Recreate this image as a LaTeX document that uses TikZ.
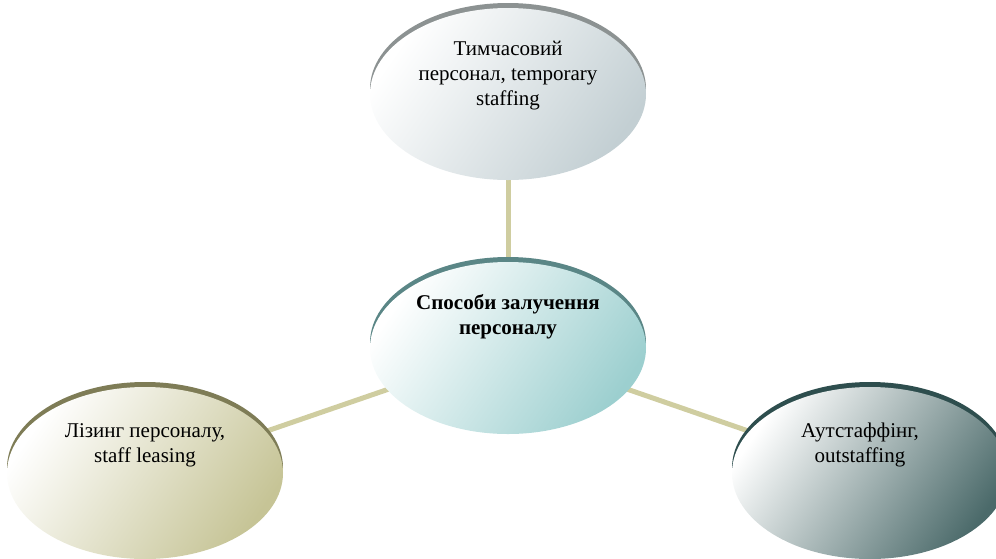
\documentclass[tikz,border=0pt]{standalone}
\usepackage{fontspec}
\setmainfont{Liberation Serif}
\usetikzlibrary{shapes.geometric,shadows}
\pgfdeclarelayer{background}
\pgfsetlayers{background,main}
\definecolor{linkc}{HTML}{CFCDA0}
\definecolor{rimA}{HTML}{8C9292}\definecolor{fillA}{HTML}{C3CFD3}
\definecolor{rimB}{HTML}{5A8686}\definecolor{fillB}{HTML}{9CCFCF}
\definecolor{rimC}{HTML}{7E7C56}\definecolor{fillC}{HTML}{C6C496}
\definecolor{rimD}{HTML}{2E4E4E}\definecolor{fillD}{HTML}{4B6A6A}
\tikzset{
  oval/.style 2 args={ellipse, minimum width=276pt, minimum height=172pt, inner sep=0pt,
    general shadow={fill=#1, shadow yshift=5pt},
    shade, top color=white, bottom color=#2, shading angle=55},
  lbl/.style={align=center, font=\fontsize{21pt}{25pt}\selectfont},
  link/.style={draw=linkc, line width=5pt}
}
\begin{document}
\begin{tikzpicture}[x=1pt,y=-1pt]
\path[use as bounding box, clip] (0,0) rectangle (996,558);
\node[oval={rimA}{fillA}] (tp) at (508,94) {};
\node[oval={rimB}{fillB}] (ct) at (508,348) {};
\node[oval={rimC}{fillC}] (lf) at (145,473) {};
\node[oval={rimD}{fillD}] (rt) at (870,473) {};
\begin{pgfonlayer}{background}
\draw[link] (tp.center) -- (ct.center);
\draw[link] (ct.center) -- (lf.center);
\draw[link] (ct.center) -- (rt.center);
\end{pgfonlayer}
\node[lbl] (tpt) at (508,76) {Тимчасовий\\персонал, temporary\\staffing};
\node[lbl, font=\fontsize{21pt}{25pt}\selectfont\bfseries] (ctt) at (508,317) {Способи залучення\\персоналу};
\node[lbl] (lft) at (145,445) {Лізинг персоналу,\\staff leasing};
\node[lbl] (rtt) at (860,445) {Аутстаффінг,\\outstaffing};
\end{tikzpicture}
\end{document}
